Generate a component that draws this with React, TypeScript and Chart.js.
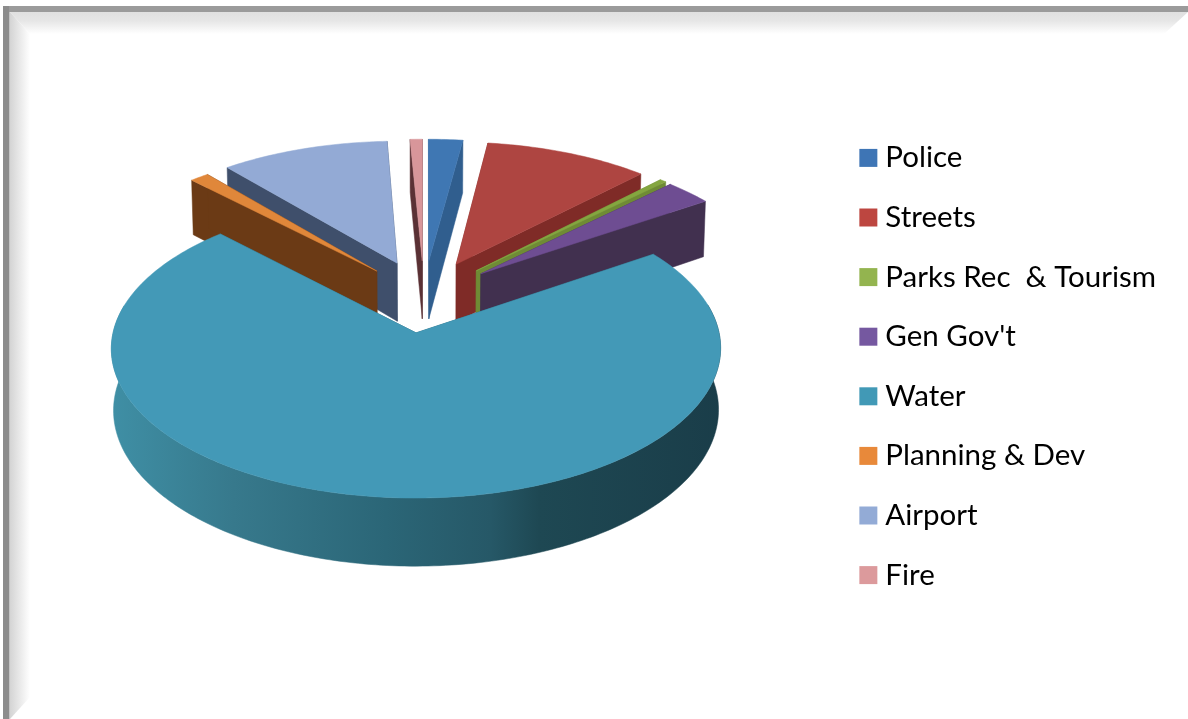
import React, { useEffect, useRef } from "react";
import { Chart, registerables } from "chart.js";

Chart.register(...registerables);

// Share of the budget by department, in percent, clockwise from 12 o'clock.
const departments = ["Police", "Streets", "Parks Rec  & Tourism", "Gen Gov't", "Water", "Planning & Dev", "Airport", "Fire"];
const shares = [2.1, 10.1, 0.4, 2.9, 72.25, 1.17, 10.33, 0.75];

const legendColors = ["#3e75b5", "#bd4640", "#93b44f", "#7558a0", "#4199b6", "#e8893a", "#93abd6", "#dc9a9c"];
const topColors = ["#3f77b3", "#ae4541", "#84a640", "#6e4d92", "#4399b7", "#e0873a", "#93aad5", "#d8969a"];
const wallColors = ["#305e8e", "#7f2b27", "#6f8b35", "#41304f", "#2a6373", "#6b3a15", "#3f4f6b", "#5a3135"];
const explosions = [74, 74, 74, 73, 74, 70, 74, 74];

// Back-to-front painting order of the slices (indices into departments).
const paintOrder = [0, 7, 1, 2, 3, 6, 5, 4];

// Perspective of the tilted pie plane.
const originX = 424;
const originY = 296;
const scaleX = 1.025;
const scaleY = 0.488;
const perspective = 0.00035;
const thickness = 59.5;
const baseShrink = 0.993;

function project(u: number, v: number, lower: boolean): [number, number] {
  const w = 1 - perspective * v;
  const x = originX + (u * scaleX * (lower ? baseShrink : 1)) / w;
  const y = originY + (scaleY * v) / w + (lower ? thickness / w : 0);
  return [x, y];
}

function fillPolygon(ctx: CanvasRenderingContext2D, pts: [number, number][], fill: string | CanvasGradient) {
  ctx.beginPath();
  pts.forEach(([x, y], i) => (i ? ctx.lineTo(x, y) : ctx.moveTo(x, y)));
  ctx.closePath();
  ctx.fillStyle = fill;
  ctx.fill();
  ctx.strokeStyle = fill;
  ctx.lineWidth = 0.5;
  ctx.stroke();
}

// Draws the arcs computed by the doughnut controller as exploded solid wedges.
const solidPie = {
  id: "solidPie",
  beforeDraw(chart: Chart) {
    const { ctx, width, height } = chart;
    ctx.save();
    ctx.fillStyle = "#ffffff";
    ctx.fillRect(0, 0, width, height);

    const topShade = ctx.createLinearGradient(0, 12, 0, 34);
    topShade.addColorStop(0, "#e0e0e0");
    topShade.addColorStop(0.4, "#e6e6e6");
    topShade.addColorStop(1, "#ffffff");
    ctx.fillStyle = topShade;
    ctx.beginPath();
    ctx.moveTo(10, 12);
    ctx.lineTo(width, 12);
    ctx.lineTo(width - 24, 34);
    ctx.lineTo(30, 34);
    ctx.closePath();
    ctx.fill();

    const leftShade = ctx.createLinearGradient(10, 0, 30, 0);
    leftShade.addColorStop(0, "#d4d4d4");
    leftShade.addColorStop(1, "#ffffff");
    ctx.fillStyle = leftShade;
    ctx.beginPath();
    ctx.moveTo(10, 12);
    ctx.lineTo(30, 34);
    ctx.lineTo(30, height - 22);
    ctx.lineTo(10, height);
    ctx.closePath();
    ctx.fill();

    ctx.fillStyle = "#9b9b9b";
    ctx.fillRect(3, 6, width - 3, 6);
    ctx.fillStyle = "#8c8c8c";
    ctx.fillRect(3, 6, 6, height - 6);
    ctx.fillStyle = "#c4c4c4";
    ctx.fillRect(9, 12, 1, height - 12);
    ctx.restore();
  },
  beforeDatasetDraw(chart: Chart) {
    const { ctx } = chart;
    const arcs = chart.getDatasetMeta(0).data as any[];
    ctx.save();
    ctx.lineJoin = "round";
    for (const index of paintOrder) {
      const arc = arcs[index];
      const { startAngle, endAngle, outerRadius } = arc;
      const offset: number = arc.options.offset;
      const mid = (startAngle + endAngle) / 2;
      const cu = offset * Math.cos(mid);
      const cv = offset * Math.sin(mid);
      const rimPoint = (a: number, lower: boolean) =>
        project(cu + outerRadius * Math.cos(a), cv + outerRadius * Math.sin(a), lower);
      const apex = (lower: boolean) => project(cu, cv, lower);
      const wall = (a: number) =>
        fillPolygon(ctx, [apex(false), rimPoint(a, false), rimPoint(a, true), apex(true)], wallColors[index]);

      wall(startAngle);

      // Outer rim, only where it faces the viewer.
      const rimAngles: number[] = [];
      for (let a = startAngle; a <= endAngle; a += Math.PI / 180) {
        if (Math.sin(a) > -0.2) rimAngles.push(a);
      }
      if (rimAngles.length > 1) {
        const rim = ctx.createLinearGradient(111, 0, 723, 0);
        rim.addColorStop(0, "#3f8fa5");
        rim.addColorStop(0.2, "#37798c");
        rim.addColorStop(0.45, "#2b6677");
        rim.addColorStop(0.62, "#265867");
        rim.addColorStop(0.7, "#1e4853");
        rim.addColorStop(1, "#1a3d49");
        const outline = [
          ...rimAngles.map((a) => rimPoint(a, false)),
          ...rimAngles.slice().reverse().map((a) => rimPoint(a, true)),
        ];
        fillPolygon(ctx, outline, rim);
      }

      wall(endAngle);

      const top: [number, number][] = [apex(false)];
      const steps = Math.max(2, Math.ceil((endAngle - startAngle) / (Math.PI / 180)));
      for (let s = 0; s <= steps; s++) {
        top.push(rimPoint(startAngle + ((endAngle - startAngle) * s) / steps, false));
      }
      fillPolygon(ctx, top, topColors[index]);
    }
    ctx.restore();
    return false;
  },
};

export default function App() {
  const canvasRef = useRef<HTMLCanvasElement | null>(null);

  useEffect(() => {
    const chart = new Chart(canvasRef.current as HTMLCanvasElement, {
      type: "pie",
      data: {
        labels: departments,
        datasets: [{ data: shares, backgroundColor: legendColors, borderWidth: 0, offset: explosions }],
      },
      options: {
        responsive: false,
        animation: false,
        radius: 288,
        layout: { padding: { top: 14, right: 22, left: 0, bottom: 0 } },
        plugins: {
          tooltip: { enabled: false },
          legend: {
            position: "right",
            labels: {
              font: { family: "Lato", size: 29.5 },
              color: "#505050",
              usePointStyle: true,
              pointStyle: "rect",
              boxWidth: 4.5,
              boxHeight: 18,
              padding: 30.1,
              generateLabels: () =>
                departments.map((text, i) => ({
                  text,
                  fillStyle: legendColors[i],
                  strokeStyle: legendColors[i],
                  lineWidth: 0,
                  pointStyle: "rect",
                  hidden: false,
                  index: i,
                })),
            },
          },
        },
      } as any,
      plugins: [solidPie as any],
    });
    return () => chart.destroy();
  }, []);

  return (
    <div style={{ position: "absolute", left: 0, top: 0, width: 1188, height: 719 }}>
      <canvas ref={canvasRef} width={1188} height={719} style={{ display: "block" }} />
    </div>
  );
}
